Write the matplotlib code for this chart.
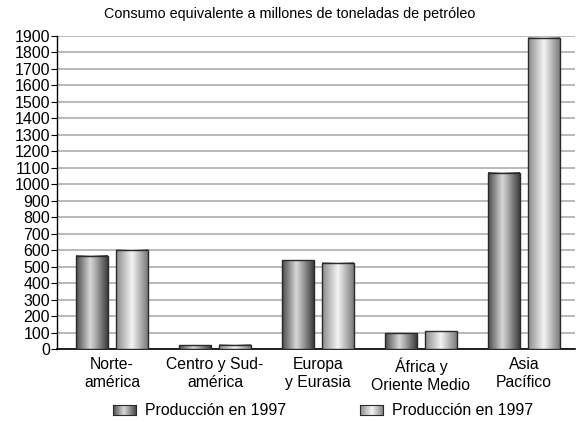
#!/usr/bin/env python3
# -*- coding: utf-8 -*-

import numpy as np
import matplotlib
matplotlib.use("Agg")
import matplotlib.pyplot as plt
from matplotlib.colors import LinearSegmentedColormap

categories = ["Norte-\namérica", "Centro y Sud-\namérica", "Europa\ny Eurasia",
              "África y\nOriente Medio", "Asia\nPacífico"]
serie_oscura = [565, 22, 540, 97, 1070]
serie_clara = [602, 25, 522, 108, 1888]
leyenda = ["Producción en 1997", "Producción en 1997"]
yticks = list(range(0, 2000, 100))

cmap_oscuro = LinearSegmentedColormap.from_list(
    "oscuro", [(0.0, "#4a4a4a"), (0.45, "#d8d8d8"), (0.6, "#b0b0b0"), (1.0, "#3c3c3c")])
cmap_claro = LinearSegmentedColormap.from_list(
    "claro", [(0.0, "#8a8a8a"), (0.5, "#f4f4f4"), (1.0, "#7a7a7a")])
grad = np.linspace(0, 1, 256).reshape(1, -1)


def gradient_bar(ax, x, h, w, cmap):
    ax.imshow(grad, extent=[x - w / 2, x + w / 2, 0, h], aspect="auto",
              cmap=cmap, zorder=3, interpolation="bilinear")
    ax.bar(x, h, w, facecolor="none", edgecolor="#2a2a2a", linewidth=1.0, zorder=4)


def main():
    plt.rcParams["font.family"] = ["Liberation Sans", "DejaVu Sans"]
    fig = plt.figure(figsize=(5.76, 4.22), dpi=100)
    ax = fig.add_axes([0.099, 0.173, 0.899, 0.742])

    x = np.arange(len(categories))
    w = 0.31
    off = 0.194
    for i in range(len(categories)):
        gradient_bar(ax, x[i] - off, serie_oscura[i], w, cmap_oscuro)
        gradient_bar(ax, x[i] + off, serie_clara[i], w, cmap_claro)

    ax.set_xlim(-0.534, 4.495)
    ax.set_ylim(0, 1900)
    ax.set_yticks(yticks)
    ax.set_yticklabels([str(v) for v in yticks], fontsize=11.5)
    ax.set_xticks(x)
    ax.set_xticklabels(categories, fontsize=11.3, linespacing=1.25)
    ax.tick_params(axis="x", length=0, pad=6)
    ax.tick_params(axis="y", length=4, width=0.8, pad=1)
    ax.yaxis.grid(True, color="#b4b4b4", linewidth=1.3, zorder=0)
    ax.set_axisbelow(True)
    ax.spines["right"].set_visible(False)
    ax.spines["top"].set_visible(False)
    ax.spines["left"].set_linewidth(1.0)
    ax.spines["bottom"].set_linewidth(1.2)

    fig.text(0.503, 0.966, "Consumo equivalente a millones de toneladas de petróleo",
             ha="center", va="center", fontsize=10.4)

    # leyenda hecha a mano con parches en degradado
    for px, cmap, label in [(0.196, cmap_oscuro, leyenda[0]), (0.625, cmap_claro, leyenda[1])]:
        lax = fig.add_axes([px, 0.0165, 0.040, 0.024])
        lax.imshow(grad, aspect="auto", cmap=cmap, interpolation="bilinear")
        lax.set_xticks([])
        lax.set_yticks([])
        for s in lax.spines.values():
            s.set_linewidth(0.8)
            s.set_color("#2a2a2a")
        fig.text(px + 0.056, 0.028, label, ha="left", va="center", fontsize=11.4)

    fig.savefig("out.png", dpi=100)


if __name__ == "__main__":
    main()
